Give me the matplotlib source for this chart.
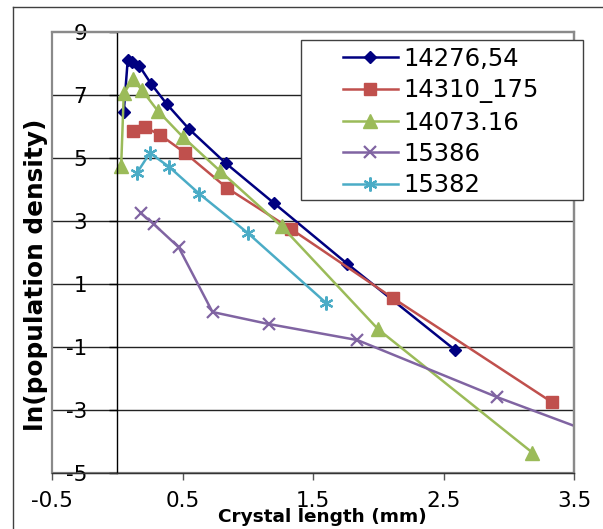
import matplotlib
matplotlib.use("Agg")
import matplotlib.pyplot as plt
from matplotlib.lines import Line2D
from matplotlib.patches import Rectangle

# values
labels = ["14276,54", "14310_175", "14073.16", "15386", "15382"]

x_14276 = [0.05, 0.08, 0.11, 0.17, 0.26, 0.38, 0.55, 0.83, 1.20, 1.76, 2.59]
y_14276 = [6.47, 8.10, 8.05, 7.92, 7.35, 6.71, 5.92, 4.84, 3.57, 1.65, -1.10]

x_14310 = [0.12, 0.21, 0.33, 0.52, 0.84, 1.33, 2.11, 3.33]
y_14310 = [5.86, 5.98, 5.73, 5.16, 4.05, 2.75, 0.56, -2.75]

x_14073 = [0.03, 0.05, 0.12, 0.19, 0.31, 0.50, 0.79, 1.26, 2.00, 3.18]
y_14073 = [4.75, 7.05, 7.50, 7.15, 6.50, 5.68, 4.58, 2.83, -0.44, -4.35]

x_15386 = [0.18, 0.28, 0.47, 0.73, 1.16, 1.84, 2.91, 3.90]
y_15386 = [3.25, 2.90, 2.17, 0.11, -0.27, -0.78, -2.59, -4.12]

x_15382 = [0.15, 0.25, 0.40, 0.63, 1.00, 1.60]
y_15382 = [4.52, 5.16, 4.71, 3.86, 2.62, 0.40]

x_ticks = [-0.5, 0.5, 1.5, 2.5, 3.5]
y_ticks = [9, 7, 5, 3, 1, -1, -3, -5]

W, H, DPI = 603, 529, 100
FS = 15.5
LEG_FS = 17.5

plt.rcParams['font.family'] = ['DejaVu Sans']
plt.rcParams['axes.unicode_minus'] = False

fig = plt.figure(figsize=(W / DPI, H / DPI), dpi=DPI)
fig.patch.set_facecolor("white")


def px(x0, y0):
    """Pixel position (top-left origin) to figure fraction."""
    return x0 / W, 1 - y0 / H


# plot area: x -0.5..3.5 at 52..574 px, y 9..-5 at 32..473 px
left, top = px(52, 32)
right, bottom = px(574, 473)
ax = fig.add_axes([left, bottom, right - left, top - bottom])

series = [
    (x_14276, y_14276, dict(color="#000080", marker="D", ms=6.5)),
    (x_14310, y_14310, dict(color="#C0504D", marker="s", ms=9)),
    (x_14073, y_14073, dict(color="#9BBB59", marker="^", ms=10.5)),
    (x_15386, y_15386, dict(color="#8064A2", marker="x", ms=9, mew=1.6)),
    (x_15382, y_15382, dict(color="#4BACC6", marker=(6, 2, 0), ms=10, mew=1.6)),
]
for (xs, ys, st), lab in zip(series, labels):
    ax.plot(xs, ys, lw=1.8, label=lab, **st)

ax.set_xlim(-0.5, 3.5)
ax.set_ylim(-5, 9)
ax.set_xticks(x_ticks)
ax.set_xticklabels(["-0.5", "0.5", "1.5", "2.5", "3.5"])
ax.set_yticks(y_ticks)

for yv in y_ticks[1:-1]:
    ax.axhline(yv, color="#222222", lw=1, zorder=0)

# frame of the plot area, gray
ax.add_patch(Rectangle((0, 0), 1, 1, transform=ax.transAxes, fill=False,
                       ec="#8a8a8a", lw=1.6, zorder=0.5, clip_on=False))

# value axis crosses at x = 0
ax.spines["left"].set_position(("data", 0))
ax.spines["left"].set_color("black")
ax.spines["left"].set_linewidth(1)
for side in ["top", "right"]:
    ax.spines[side].set_color("#8a8a8a")
    ax.spines[side].set_linewidth(1.6)
ax.spines["bottom"].set_color("#333333")
ax.spines["bottom"].set_linewidth(1)
ax.spines["bottom"].set_zorder(3)

ax.tick_params(axis="y", direction="out", length=6, width=1, pad=15.5,
               labelsize=FS, color="black")
ax.tick_params(axis="x", direction="out", length=5, width=1, pad=8,
               labelsize=FS, color="#555555")

fig.text(*px(322, 517), "Crystal length (mm)", ha="center", va="center",
         fontsize=13.3, fontweight="bold")
fig.text(*px(36, 275), "ln(population density)", ha="center", va="center",
         rotation=90, fontsize=17.8, fontweight="bold")

# outer chart border (left and top edges visible)
fig.add_artist(Line2D([13 / W, 13 / W], [0, 1 - 7 / H], color="#404040", lw=1))
fig.add_artist(Line2D([13 / W, 1], [1 - 7 / H, 1 - 7 / H], color="#404040", lw=1))

# legend box drawn separately so its padding matches
lx0, ly0 = px(301, 200)
lx1, ly1 = px(583, 40)
fig.add_artist(Rectangle((lx0, ly0), lx1 - lx0, ly1 - ly0, fc="white",
                         ec="#404040", lw=1, zorder=4))
handles, labs = ax.get_legend_handles_labels()
leg = fig.legend(handles, labs, loc="upper left", bbox_to_anchor=px(343, 47),
                 frameon=False, fontsize=LEG_FS, handlelength=2.25,
                 handletextpad=0.25, labelspacing=0.3, borderpad=0,
                 borderaxespad=0)
leg.set_zorder(5)

fig.savefig("out.png", dpi=DPI)
